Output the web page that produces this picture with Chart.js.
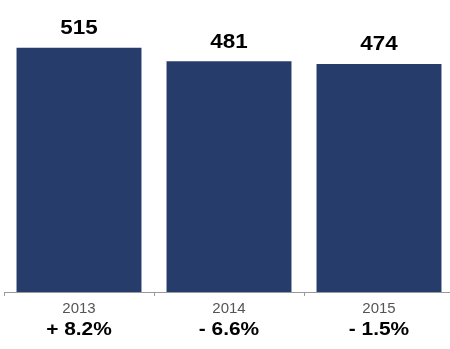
<!DOCTYPE html>
<html>
<head>
<meta charset="utf-8">
<script src="https://cdn.jsdelivr.net/npm/chart.js@4"></script>
<style>
  html, body { margin: 0; padding: 0; background: #ffffff; overflow: hidden; }
  #wrap { position: relative; width: 454px; height: 349px; }
</style>
</head>
<body>
<div id="wrap"><canvas id="c"></canvas></div>
<script>
// Annual totals and year-on-year change
const years = ["2013", "2014", "2015"];
const totals = [515, 481, 474];
const changes = ["+ 8.2%", "- 6.6%", "- 1.5%"];

const axisMin = -100;
const axisMax = 635;

const FONT = "'Liberation Sans', Arial, Helvetica, sans-serif";

// Draws centred text slightly widened horizontally
function wideText(ctx, txt, x, y, sx) {
  ctx.save();
  ctx.translate(x, y);
  ctx.scale(sx, 1);
  ctx.fillText(txt, 0, 0);
  ctx.restore();
}

// Writes each total above its bar and the change below each year label
const labelPlugin = {
  id: 'barLabels',
  afterDatasetsDraw(chart) {
    const ctx = chart.ctx;
    const meta = chart.getDatasetMeta(0);
    const xScale = chart.scales.x;
    ctx.save();
    ctx.textAlign = 'center';
    ctx.textBaseline = 'middle';
    ctx.fillStyle = '#000000';
    ctx.font = 'bold 20px ' + FONT;
    meta.data.forEach((bar, i) => {
      wideText(ctx, String(totals[i]), bar.x, bar.y - 19, 1.12);
    });
    ctx.font = 'bold 19px ' + FONT;
    changes.forEach((txt, i) => {
      wideText(ctx, txt, xScale.getPixelForTick(i), 330, 1.1);
    });
    ctx.restore();
  }
};

new Chart(document.getElementById('c'), {
  type: 'bar',
  data: {
    labels: years,
    datasets: [{
      data: totals,
      base: axisMin,
      backgroundColor: '#263c6a',
      borderWidth: 0,
      barPercentage: 0.833,
      categoryPercentage: 1.0
    }]
  },
  options: {
    responsive: true,
    maintainAspectRatio: false,
    animation: false,
    layout: { padding: { left: 4, right: 0, top: 0, bottom: 0 } },
    plugins: {
      legend: { display: false },
      tooltip: { enabled: false }
    },
    scales: {
      x: {
        grid: {
          display: true,
          drawOnChartArea: false,
          drawTicks: true,
          tickLength: 4,
          color: '#9a9a9a'
        },
        border: { display: true, color: '#9a9a9a', width: 1 },
        ticks: {
          color: '#555555',
          font: { family: FONT, size: 15 },
          padding: 4,
          maxRotation: 0
        },
        afterFit(scale) { scale.height = 57; }
      },
      y: {
        display: false,
        min: axisMin,
        max: axisMax
      }
    }
  },
  plugins: [labelPlugin]
});
</script>
</body>
</html>
